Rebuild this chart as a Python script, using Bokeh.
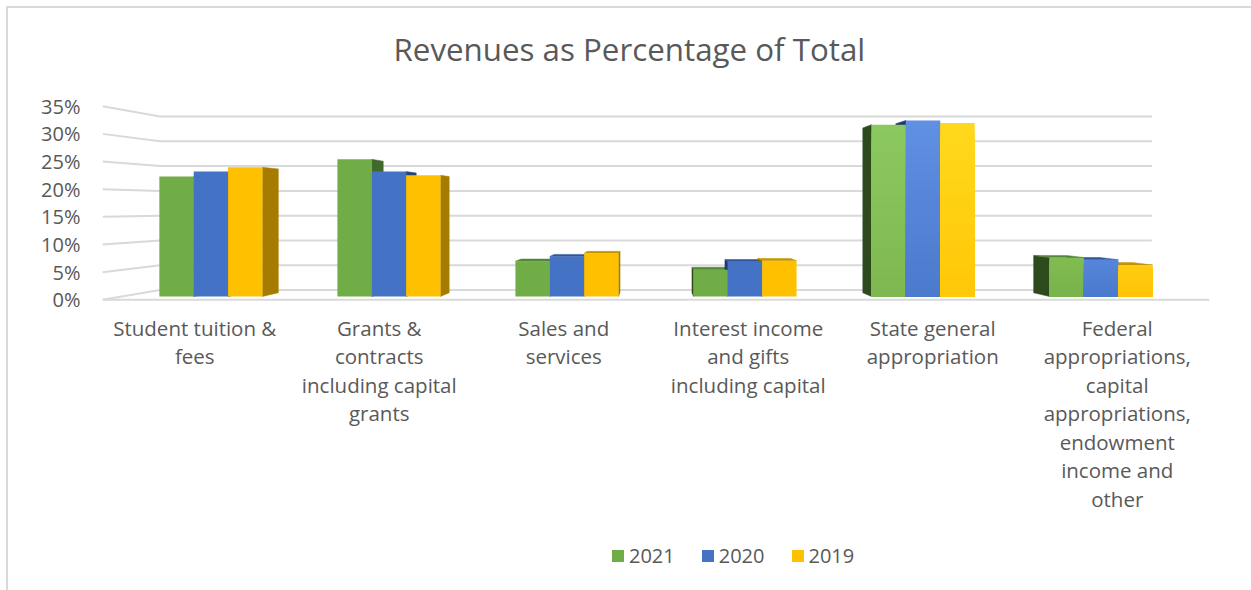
from bokeh.plotting import figure
from bokeh.layouts import column
from bokeh.embed import file_html
from bokeh.resources import INLINE
from bokeh.models import (ColumnDataSource, Legend, LegendItem, LinearAxis, FixedTicker,
                          Title, Range1d)

# ---- data ----
categories = [
    "Student tuition &\nfees",
    "Grants &\ncontracts\nincluding capital\ngrants",
    "Sales and\nservices",
    "Interest income\nand gifts\nincluding capital",
    "State general\nappropriation",
    "Federal\nappropriations,\ncapital\nappropriations,\nendowment\nincome and\nother",
]
series_names = ["2021", "2020", "2019"]
values_2021 = [22.5, 25.7, 6.6, 5.0, 32.2, 7.3]
values_2020 = [23.4, 23.4, 7.5, 6.5, 33.0, 6.9]
values_2019 = [24.2, 22.7, 8.1, 6.7, 32.5, 5.9]
y_ticks = [0, 5, 10, 15, 20, 25, 30, 35]

# ---- styling ----
TEXT = "#595959"
FONT = "Open Sans"
GRID = "#D9D9D9"
base_cols = ["#70AD47", "#4472C4", "#FFC000"]
right_cols = ["#43682B", "#264478", "#A67C00"]
left_cols = ["#2D4A1C", "#1F3A70", "#8A6800"]
top_cols = ["#55853A", "#2F5597", "#C49300"]
grad_top = {4: ["#8CC860", "#6090E2", "#FFD81C"], 5: ["#80BC52", "#5586DA", "#FFCC10"]}
grad_bot = {4: ["#7FB850", "#4C7ACC", "#FFC808"], 5: ["#78B34B", "#4A7ACD", "#FFC408"]}

# ---- 3D projection of the Excel chart (all in data units) ----
VX, VY = 3.0, 17.05      # vanishing point
F_WALL = 0.896           # back wall depth
F_BAR = 0.965            # bar front face depth
F_BACK = 0.926           # bar back face depth
BAR_W = 0.193


def proj(x, y, f):
    return VX + (x - VX) * f, VY + (y - VY) * f


def mix(c1, c2, t):
    a = [int(c1[i:i + 2], 16) for i in (1, 3, 5)]
    b = [int(c2[i:i + 2], 16) for i in (1, 3, 5)]
    return "#%02X%02X%02X" % tuple(round(p + (q - p) * t) for p, q in zip(a, b))


# chart-area border (top and left only) is painted behind the transparent figures
BORDER = (f"linear-gradient({GRID},{GRID}) 6px 6px/2px 100% no-repeat,"
          f"linear-gradient({GRID},{GRID}) 6px 6px/100% 2px no-repeat")
BORDER_LEFT = f"linear-gradient({GRID},{GRID}) 6px 0/2px 100% no-repeat"

p = figure(frame_width=1107, frame_height=207, output_backend="svg", toolbar_location=None,
           x_range=Range1d(0, 6), y_range=Range1d(-0.49, 36.94),
           x_axis_location=None, y_axis_location=None,
           min_border_left=102, min_border_right=42, min_border_top=95, min_border_bottom=228,
           outline_line_color=None, background_fill_color=None, border_fill_color=None,
           styles={"background": BORDER})
p.grid.visible = False

p.title = Title(text="Revenues as Percentage of Total", align="left", offset=291,
                text_font=FONT, text_font_size="31.3px", text_font_style="normal",
                text_color=TEXT, standoff=51)

# axes
yax = LinearAxis(ticker=FixedTicker(ticks=y_ticks),
                 major_label_overrides={t: f"{t}%" for t in y_ticks},
                 axis_line_color=None, major_tick_line_color=None, minor_tick_line_color=None,
                 major_label_text_font=FONT, major_label_text_font_size="20px",
                 major_label_text_color=TEXT, major_label_standoff=16)
p.add_layout(yax, "left")
centers = [i + 0.5 for i in range(len(categories))]
xax = LinearAxis(ticker=FixedTicker(ticks=centers),
                 major_label_overrides={c: t for c, t in zip(centers, categories)},
                 axis_line_color=None, major_tick_line_color=None, minor_tick_line_color=None,
                 major_label_text_font=FONT, major_label_text_font_size="20.5px",
                 major_label_text_color=TEXT, major_label_standoff=5,
                 major_label_text_line_height=1.02)
p.add_layout(xax, "below")

# walls and gridlines
xs, ys = [], []
for t in y_ticks:
    x0, y0 = proj(0, t, F_WALL)
    x1, y1 = proj(6, t, F_WALL)
    xs.append([0, x0, x1])
    ys.append([t, y0, y1])
xs.append([0, 6])
ys.append([0, 0])
p.multi_line(xs, ys, line_color=GRID, line_width=2)

# bars
all_values = [values_2021, values_2020, values_2019]
# depth faces first
px, py, pc = [], [], []
for s, vals in enumerate(all_values):
    for c, v in enumerate(vals):
        xl = c + 0.5 + (s - 1.5) * BAR_W
        xr = xl + BAR_W
        left_side = c + 0.5 > VX
        edge = xl if left_side else xr
        a = proj(edge, 0, F_BAR); b = proj(edge, v, F_BAR)
        d = proj(edge, v, F_BACK); e = proj(edge, 0, F_BACK)
        px.append([a[0], b[0], d[0], e[0]])
        py.append([a[1], b[1], d[1], e[1]])
        pc.append(left_cols[s] if left_side else right_cols[s])
        if v < VY:
            a = proj(xl, v, F_BAR); b = proj(xr, v, F_BAR)
            d = proj(xr, v, F_BACK); e = proj(xl, v, F_BACK)
            px.append([a[0], b[0], d[0], e[0]])
            py.append([a[1], b[1], d[1], e[1]])
            pc.append(top_cols[s])
p.patches(px, py, fill_color=pc, line_color=pc, line_width=0.5)

# front faces (nested slices, tallest first, so that no seams show in the shaded bars)
STEPS = 24
for s, vals in enumerate(all_values):
    L, R, T, B, C = [], [], [], [], []
    for c, v in enumerate(vals):
        xl = c + 0.5 + (s - 1.5) * BAR_W
        xr = xl + BAR_W
        x0, y0 = proj(xl, 0, F_BAR)
        x1, y1 = proj(xr, v, F_BAR)
        n = STEPS if c in grad_top else 1
        for k in range(n - 1, -1, -1):
            L.append(x0); R.append(x1)
            B.append(y0)
            T.append(y0 + (y1 - y0) * (k + 1) / n)
            if c in grad_top:
                C.append(mix(grad_bot[c][s], grad_top[c][s], k / (n - 1)))
            else:
                C.append(base_cols[s])
    src = ColumnDataSource(dict(left=L, right=R, top=T, bottom=B, color=C))
    p.quad(left="left", right="right", top="top", bottom="bottom", source=src,
           fill_color="color", line_color=None)

# legend: a strip of its own below the chart, so that it lies inside a frame and is not cut off
strip = figure(width=1251, height=60, output_backend="svg", toolbar_location=None,
               x_range=Range1d(0, 1), y_range=Range1d(0, 1),
               x_axis_location=None, y_axis_location=None,
               min_border_left=0, min_border_right=0, min_border_top=0, min_border_bottom=0,
               outline_line_color=None, background_fill_color=None, border_fill_color=None,
               styles={"background": BORDER_LEFT})
strip.grid.visible = False
items = []
for name, col in zip(series_names, base_cols):
    # key renderers: their one row lies outside the strip's range, only the legend key shows
    r = strip.quad(left=[-2], right=[-1], top=[-1], bottom=[-2], fill_color=col, line_color=None)
    items.append(LegendItem(label=name, renderers=[r], index=0))
legend = Legend(items=items, orientation="horizontal", location=(508, 21),
                padding=0, margin=0, spacing=25,
                glyph_width=15, glyph_height=15, label_standoff=4,
                label_text_font=FONT, label_text_font_size="20px", label_text_color=TEXT,
                background_fill_alpha=0, border_line_color=None)
strip.add_layout(legend, "center")

page = column(p, strip, spacing=0)
open("out.html", "w").write(file_html(page, INLINE))
